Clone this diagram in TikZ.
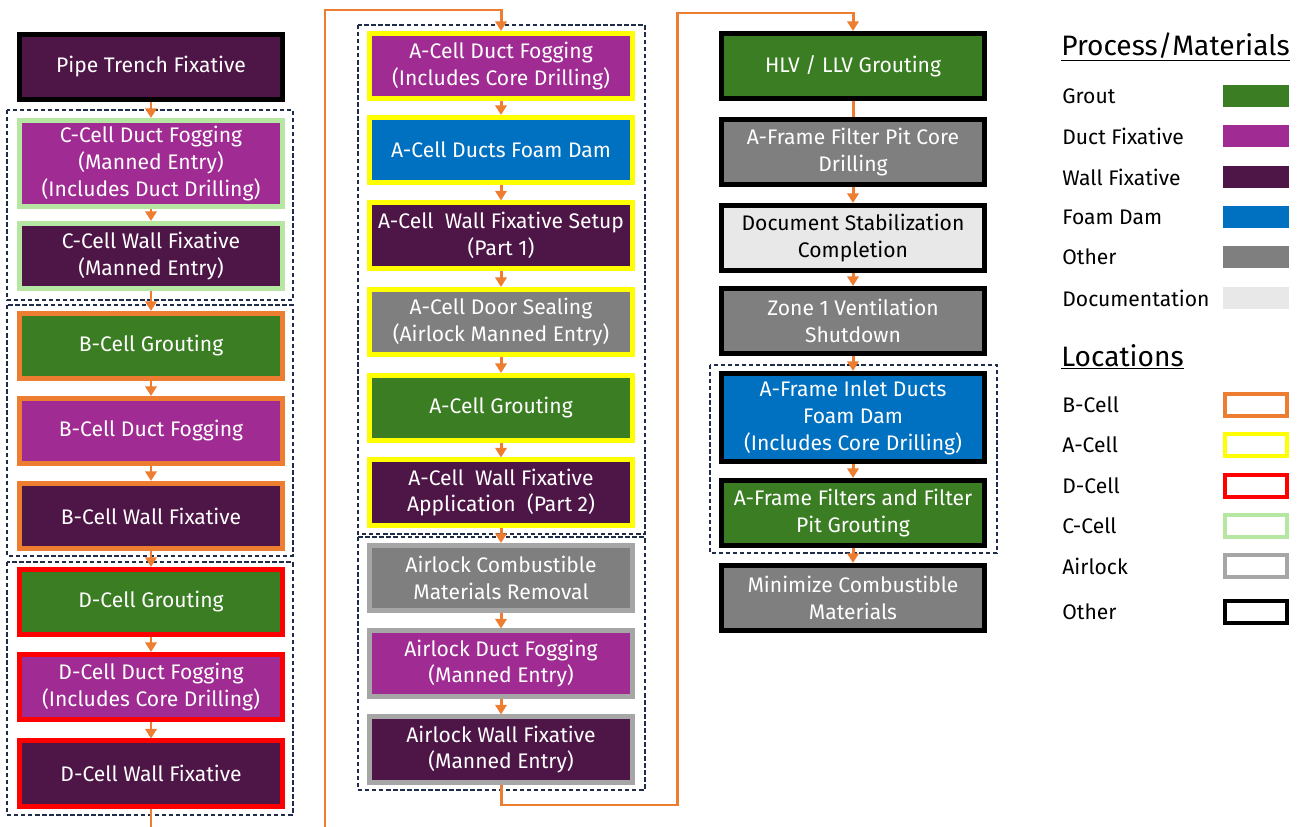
\documentclass[tikz,border=0pt]{standalone}
\usepackage{fontspec}
\setmainfont{Fira Sans}
\usepackage{xcolor}
\usepackage{tikz}
\usetikzlibrary{arrows.meta}

\definecolor{grout}{HTML}{3A7D22}
\definecolor{ductfix}{HTML}{A02B93}
\definecolor{wallfix}{HTML}{4E1547}
\definecolor{foamdam}{HTML}{0070C0}
\definecolor{othergray}{HTML}{7F7F7F}
\definecolor{docgray}{HTML}{E8E8E8}
\definecolor{bcell}{HTML}{ED7D31}
\definecolor{acell}{HTML}{FFFF00}
\definecolor{dcell}{HTML}{FF0000}
\definecolor{ccell}{HTML}{B5E6A2}
\definecolor{airlock}{HTML}{A6A6A6}
\definecolor{grpline}{HTML}{1F2D4A}

\tikzset{
  task/.style={draw, line width=2.6pt, minimum width=5.27cm, minimum height=1.31cm,
    align=center, text=white, inner sep=1pt, font=\fontsize{12}{15.3}\selectfont},
  flow/.style={draw=bcell, line width=1.7pt, -{Triangle[width=6.5pt,length=5.5pt]}},
  flowline/.style={draw=bcell, line width=1.7pt},
  grp/.style={draw=grpline, line width=0.9pt, dash pattern=on 2.5pt off 1.5pt},
  legtitle/.style={anchor=west, inner sep=0pt, font=\fontsize{16}{18}\selectfont},
  legtext/.style={anchor=west, inner sep=0pt, font=\fontsize{12}{14}\selectfont},
  legfill/.style={minimum width=1.31cm, minimum height=0.45cm, inner sep=0pt},
  legframe/.style={draw, line width=2.5pt, minimum width=1.24cm, minimum height=0.44cm, inner sep=0pt}
}

\begin{document}
\begin{tikzpicture}[x=0.02cm, y=-0.02cm]
\useasboundingbox (0,0) rectangle (1301,827);

% group frames
\draw[grp] (7,110) rectangle (293,300);
\draw[grp] (7,305) rectangle (293,556);
\draw[grp] (7,562) rectangle (293,815);
\draw[grp] (358,25) rectangle (645,534);
\draw[grp] (358,537) rectangle (645,790);
\draw[grp] (710,365) rectangle (997,553);

% first column
\node[task, fill=wallfix, draw=black] (pipe) at (151,67) {Pipe Trench Fixative};
\node[task, fill=ductfix, draw=ccell, minimum height=1.73cm] (cfog) at (151,163.5) {C-Cell Duct Fogging\\(Manned Entry)\\(Includes Duct Drilling)};
\node[task, fill=wallfix, draw=ccell] (cwall) at (151,256) {C-Cell Wall Fixative\\(Manned Entry)};
\node[task, fill=grout, draw=bcell] (bgrout) at (151,346) {B-Cell Grouting};
\node[task, fill=ductfix, draw=bcell] (bfog) at (151,431) {B-Cell Duct Fogging};
\node[task, fill=wallfix, draw=bcell] (bwall) at (151,516) {B-Cell Wall Fixative};
\node[task, fill=grout, draw=dcell] (dgrout) at (151,602) {D-Cell Grouting};
\node[task, fill=ductfix, draw=dcell] (dfog) at (151,687) {D-Cell Duct Fogging\\(Includes Core Drilling)};
\node[task, fill=wallfix, draw=dcell] (dwall) at (151,773.5) {D-Cell Wall Fixative};

% second column
\node[task, fill=ductfix, draw=acell] (afog) at (501,66) {A-Cell Duct Fogging\\(Includes Core Drilling)};
\node[task, fill=foamdam, draw=acell] (afoam) at (501,150) {A-Cell Ducts Foam Dam};
\node[task, fill=wallfix, draw=acell] (asetup) at (501,235.5) {A-Cell\ \ Wall Fixative Setup\\(Part 1)};
\node[task, fill=othergray, draw=acell] (adoor) at (501,322) {A-Cell Door Sealing\\(Airlock Manned Entry)};
\node[task, fill=grout, draw=acell] (agrout) at (501,408) {A-Cell Grouting};
\node[task, fill=wallfix, draw=acell] (aapply) at (501,492.5) {A-Cell\ \ Wall Fixative\\Application\ \ (Part 2)};
\node[task, fill=othergray, draw=airlock] (lcomb) at (501,578) {Airlock Combustible\\Materials Removal};
\node[task, fill=ductfix, draw=airlock] (lfog) at (501,663.5) {Airlock Duct Fogging\\(Manned Entry)};
\node[task, fill=wallfix, draw=airlock] (lwall) at (501,749.5) {Airlock Wall Fixative\\(Manned Entry)};

% third column
\node[task, fill=grout, draw=black] (hlv) at (853,66) {HLV / LLV Grouting};
\node[task, fill=othergray, draw=black] (pitcore) at (853,152) {A-Frame Filter Pit Core\\Drilling};
\node[task, fill=docgray, draw=black, text=black] (docstab) at (853,238) {Document Stabilization\\Completion};
\node[task, fill=othergray, draw=black] (zone) at (853,321) {Zone 1 Ventilation\\Shutdown};
\node[task, fill=foamdam, draw=black, minimum height=1.77cm] (inlet) at (853,417.5) {A-Frame Inlet Ducts\\Foam Dam\\(Includes Core Drilling)};
\node[task, fill=grout, draw=black] (filters) at (853,513) {A-Frame Filters and Filter\\Pit Grouting};
\node[task, fill=othergray, draw=black] (minim) at (853,598) {Minimize Combustible\\Materials};

% bends of the long connectors
\coordinate (downA) at (151,850);
\coordinate (topA) at (325,10);
\coordinate (downB) at (501,805);
\coordinate (topB) at (677,13);

% connectors
\draw[flow] (pipe) -- (cfog);
\draw[flow] (cfog) -- (cwall);
\draw[flow] (cwall) -- (bgrout);
\draw[flow] (bgrout) -- (bfog);
\draw[flow] (bfog) -- (bwall);
\draw[flow] (bwall) -- (dgrout);
\draw[flow] (dgrout) -- (dfog);
\draw[flow] (dfog) -- (dwall);
\draw[flow] (dwall) -- (downA) -| (topA) -| (afog);
\draw[flow] (afog) -- (afoam);
\draw[flow] (afoam) -- (asetup);
\draw[flow] (asetup) -- (adoor);
\draw[flow] (adoor) -- (agrout);
\draw[flow] (agrout) -- (aapply);
\draw[flow] (aapply) -- (lcomb);
\draw[flow] (lcomb) -- (lfog);
\draw[flow] (lfog) -- (lwall);
\draw[flow] (lwall) -- (downB) -| (topB) -| (hlv);
\draw[flowline] (hlv) -- (pitcore);
\draw[flow] (pitcore) -- (docstab);
\draw[flow] (docstab) -- (zone);
\draw[flow] (zone) -- (inlet);
\draw[flow] (inlet) -- (filters);
\draw[flow] (filters) -- (minim);

% legend: process / materials
\node[legtitle] (proctitle) at (1061,47) {\underline{Process/Materials}};
\node[legtext] (tgrout) at (1062,96) {Grout};
\node[legtext] (tduct) at (1062,136) {Duct Fixative};
\node[legtext] (twall) at (1062,177) {Wall Fixative};
\node[legtext] (tfoam) at (1062,217) {Foam Dam};
\node[legtext] (tother) at (1062,257) {Other};
\node[legtext] (tdoc) at (1062,298) {Documentation};
\node[legfill, fill=grout] (sgrout) at (1256,96) {};
\node[legfill, fill=ductfix] (sduct) at (1256,136) {};
\node[legfill, fill=wallfix] (swall) at (1256,177) {};
\node[legfill, fill=foamdam] (sfoam) at (1256,217) {};
\node[legfill, fill=othergray] (sother) at (1256,257) {};
\node[legfill, fill=docgray] (sdoc) at (1256,298) {};

% legend: locations
\node[legtitle] (loctitle) at (1061,357) {\underline{Locations}};
\node[legtext] (tbcell) at (1062,405) {B-Cell};
\node[legtext] (tacell) at (1062,445) {A-Cell};
\node[legtext] (tdcell) at (1062,486) {D-Cell};
\node[legtext] (tccell) at (1062,526) {C-Cell};
\node[legtext] (tairlock) at (1062,566) {Airlock};
\node[legtext] (tlocother) at (1062,612) {Other};
\node[legframe, draw=bcell] (fbcell) at (1256,405) {};
\node[legframe, draw=acell] (facell) at (1256,445) {};
\node[legframe, draw=dcell] (fdcell) at (1256,486) {};
\node[legframe, draw=ccell] (fccell) at (1256,526) {};
\node[legframe, draw=airlock] (fairlock) at (1256,566) {};
\node[legframe, draw=black] (flocother) at (1256,612) {};
\end{tikzpicture}
\end{document}
